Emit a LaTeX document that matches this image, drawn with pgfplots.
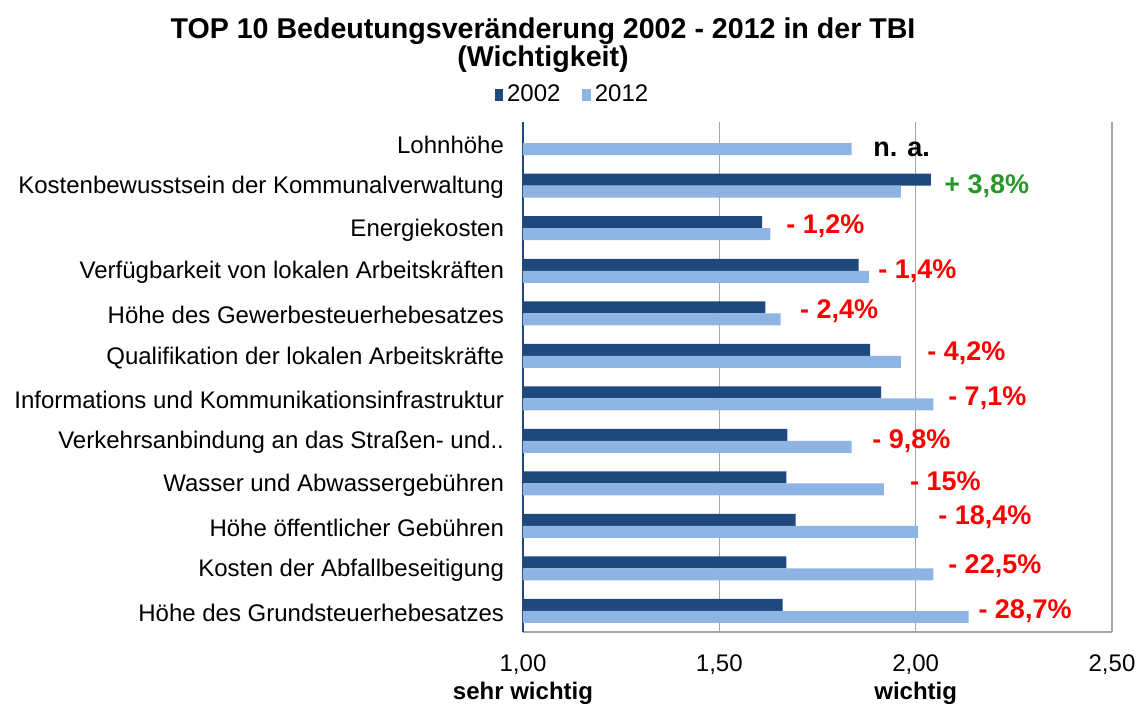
\documentclass[border=0pt]{standalone}
\usepackage{pgfplots}
\pgfplotsset{compat=1.18}
\usepackage{fontspec}
\setmainfont{Liberation Sans}
\definecolor{c2002}{RGB}{31,73,125}
\definecolor{c2012}{RGB}{141,180,226}
\definecolor{pgreen}{RGB}{40,150,40}
\definecolor{gridc}{RGB}{165,165,165}
\begin{document}
\begin{tikzpicture}
\begin{axis}[
 scale only axis, width=294.5pt, height=255pt,
 xbar, bar width=6pt,
 xmin=1, xmax=2.5, ymin=-0.5, ymax=11.5,
 xtick={1,1.5,2,2.5},
 xticklabels={{1,00\\\textbf{sehr wichtig}},{1,50},{2,00\\\textbf{wichtig}},{2,50}},
 xticklabel style={align=center, font=\fontsize{12}{14}\selectfont, yshift=-8pt},
 ytick={0,...,11},
 yticklabels={{Höhe des Grundsteuerhebesatzes},{Kosten der Abfallbeseitigung},{Höhe öffentlicher Gebühren},{Wasser und Abwassergebühren},{Verkehrsanbindung an das Straßen- und..},{Informations und Kommunikationsinfrastruktur},{Qualifikation der lokalen Arbeitskräfte},{Höhe des Gewerbesteuerhebesatzes},{Verfügbarkeit von lokalen Arbeitskräften},{Energiekosten},{Kostenbewusstsein der Kommunalverwaltung},{Lohnhöhe}},
 yticklabel style={font=\fontsize{12}{14}\selectfont, xshift=-6pt, yshift=-1pt},
 major tick length=0pt,
 xmajorgrids, grid style={gridc, line width=0.8pt},
 axis x line*=bottom, axis y line*=left,
 x axis line style={gridc, line width=1pt, -},
 y axis line style={c2002, line width=1pt, -},
 legend style={at={(0.0857,1.053)}, anchor=center, draw=none, legend columns=2,
   font=\fontsize{12}{14}\selectfont,
   /tikz/every even column/.append style={column sep=9pt}},
 legend image code/.code={\fill[#1] (0pt,-2.9pt) rectangle (4.2pt,2.9pt);},
]
\addplot[fill=c2002, draw=none, bar shift=3pt] coordinates {
 (2.039,10) (1.609,9) (1.855,8) (1.617,7) (1.884,6) (1.912,5) (1.673,4) (1.671,3) (1.694,2) (1.671,1) (1.661,0)};
\addplot[fill=c2012, draw=none, bar shift=-3pt] coordinates {
 (1.837,11) (1.962,10) (1.630,9) (1.881,8) (1.656,7) (1.962,6) (2.045,5) (1.837,4) (1.919,3) (2.006,2) (2.045,1) (2.135,0)};
\legend{2002,2012}
\begin{scope}[every node/.style={anchor=west, inner sep=0pt, font=\bfseries\fontsize{13.5}{15}\selectfont, text=red}]
\node[text=black] at (axis cs:1.891,10.86) {n. a.};
\node[text=pgreen] at (axis cs:2.072,10) {+ 3,8\%};
\node at (axis cs:1.670,9.05) {- 1,2\%};
\node at (axis cs:1.904,8) {- 1,4\%};
\node at (axis cs:1.705,7.05) {- 2,4\%};
\node at (axis cs:2.029,6.05) {- 4,2\%};
\node at (axis cs:2.082,5) {- 7,1\%};
\node at (axis cs:1.889,4) {- 9,8\%};
\node at (axis cs:1.985,3.05) {- 15\%};
\node at (axis cs:2.057,2.2) {- 18,4\%};
\node at (axis cs:2.082,1.05) {- 22,5\%};
\node at (axis cs:2.159,0) {- 28,7\%};
\end{scope}
\end{axis}
\node[align=center, font=\bfseries\fontsize{14.3}{14}\selectfont] at ([xshift=10pt,yshift=293.5pt]current axis.south west) {TOP 10 Bedeutungsveränderung 2002 - 2012 in der TBI\\(Wichtigkeit)};
\pgfresetboundingbox
\path ([xshift=-261.5pt,yshift=-37.5pt]current axis.south west) rectangle ([xshift=307.5pt,yshift=316pt]current axis.south west);
\end{tikzpicture}
\end{document}
